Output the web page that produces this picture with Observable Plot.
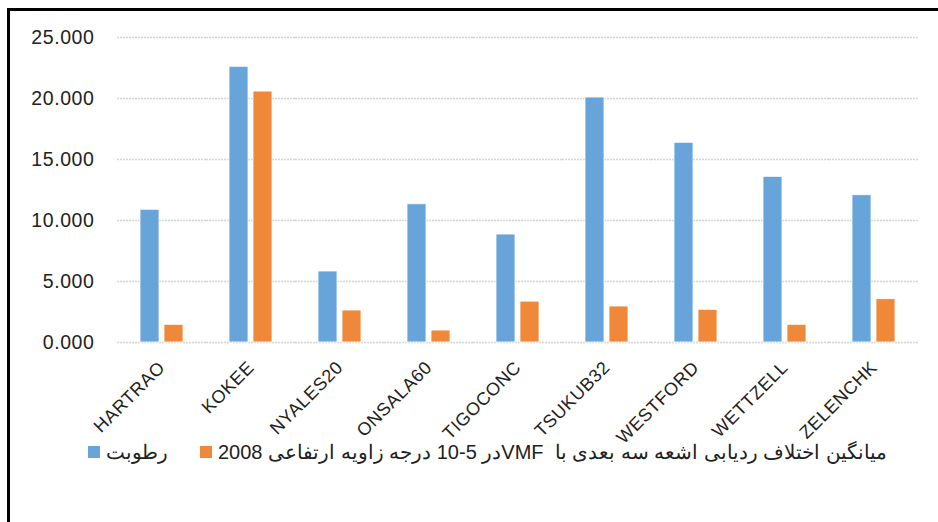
<!DOCTYPE html>
<html><head><meta charset="utf-8">
<script src="https://cdn.jsdelivr.net/npm/d3@7"></script>
<script src="https://cdn.jsdelivr.net/npm/@observablehq/plot@0.6"></script>
<style>
html,body{margin:0;padding:0;background:#fff;}
#wrap{position:relative;width:938px;height:522px;overflow:hidden;font-family:"Liberation Sans",Arial,sans-serif;}
#frame{position:absolute;left:7px;top:8px;width:1000px;height:1000px;border-top:3px solid #000;border-left:3px solid #000;box-sizing:border-box;}
#chart{position:absolute;left:0;top:0;}
#legend{position:absolute;left:88px;top:440px;display:flex;align-items:center;font-size:20px;color:#222;white-space:pre;}
.sw{width:12px;height:12px;display:inline-block;margin-right:6px;}
.item{display:flex;align-items:center;}
</style></head>
<body><div id="wrap"><div id="frame"></div><div id="chart"></div><div id="legend"></div></div>
<script>
const stations = ["HARTRAO","KOKEE","NYALES20","ONSALA60","TIGOCONC","TSUKUB32","WESTFORD","WETTZELL","ZELENCHK"];
const seriesNames = ["رطوبت","میانگین اختلاف ردیابی اشعه سه بعدی با  VMFدر 5-10 درجه زاویه ارتفاعی 2008"];
const humidity = [10.88, 22.6, 5.82, 11.33, 8.85, 20.08, 16.37, 13.58, 12.07];
const vmfDiff = [1.45, 20.57, 2.62, 0.98, 3.35, 2.95, 2.68, 1.45, 3.55];
const yTicks = [0, 5, 10, 15, 20, 25];
const colors = ["#66A4DA", "#EF8839"];

const data = [];
stations.forEach((s, i) => {
  data.push({station: s, series: seriesNames[0], value: humidity[i]});
  data.push({station: s, series: seriesNames[1], value: vmfDiff[i]});
});

const plot = Plot.plot({
  width: 938,
  height: 500,
  marginLeft: 115,
  marginRight: 19,
  marginTop: 37,
  marginBottom: 158,
  style: {fontFamily: "'Liberation Sans', Arial, sans-serif", background: "transparent"},
  fx: {domain: stations, padding: 0, label: null, tickRotate: -45, tickSize: 0, tickPadding: 22},
  x: {domain: seriesNames, axis: null, paddingInner: 0.2, paddingOuter: 0.886},
  y: {domain: [0, 25], ticks: yTicks, label: null, tickFormat: d3.format(".3f"), tickSize: 0, tickPadding: 23},
  color: {domain: seriesNames, range: colors},
  marks: [
    Plot.ruleY(yTicks, {stroke: "#d4d4d4", strokeWidth: 1.5, strokeDasharray: "2,1"}),
    Plot.barY(data, {fx: "station", x: "series", y: "value", fill: "series", stroke: "#fff", strokeWidth: 0.8})
  ]
});
plot.querySelectorAll("[aria-label='y-axis tick label'] text, [aria-label='fx-axis tick label'] text").forEach(t => t.setAttribute("fill", "#222"));
plot.querySelectorAll("[aria-label='y-axis tick label']").forEach(g => { g.setAttribute("font-size", "19.5"); g.setAttribute("letter-spacing", "0.6"); });
plot.querySelectorAll("[aria-label='fx-axis tick label']").forEach(g => { g.setAttribute("font-size", "18"); g.setAttribute("letter-spacing", "0.6"); });
document.getElementById("chart").appendChild(plot);

const legend = document.getElementById("legend");
seriesNames.forEach((n, i) => {
  const it = document.createElement("span");
  it.className = "item";
  it.style.marginRight = i === 0 ? "32px" : "0";
  const sw = document.createElement("span");
  sw.className = "sw";
  sw.style.background = colors[i];
  const tx = document.createElement("span");
  tx.dir = "rtl";
  tx.textContent = n;
  it.appendChild(sw); it.appendChild(tx);
  legend.appendChild(it);
});
</script></body></html>
